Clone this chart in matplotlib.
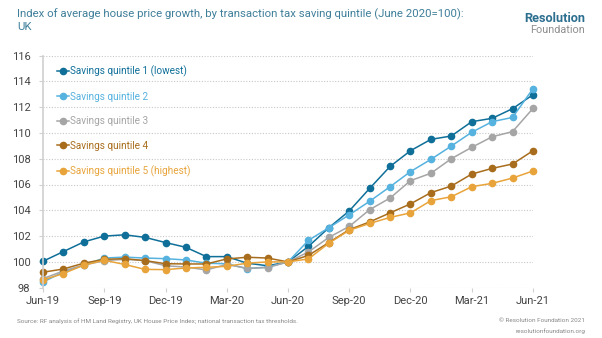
import numpy as np
import matplotlib
matplotlib.use("Agg")
import matplotlib.pyplot as plt

plt.rcParams['font.family'] = ['Roboto', 'DejaVu Sans']

# data (index, June 2020 = 100)
months = ["Jun-19", "Jul-19", "Aug-19", "Sep-19", "Oct-19", "Nov-19", "Dec-19",
          "Jan-20", "Feb-20", "Mar-20", "Apr-20", "May-20", "Jun-20",
          "Jul-20", "Aug-20", "Sep-20", "Oct-20", "Nov-20", "Dec-20",
          "Jan-21", "Feb-21", "Mar-21", "Apr-21", "May-21", "Jun-21"]

q1 = [100.05, 100.8, 101.55, 102.0, 102.1, 101.9, 101.5, 101.13, 100.41, 100.41, 99.9, 99.7, 100.0,
      101.2, 102.65, 103.95, 105.7, 107.4, 108.62, 109.5, 109.76, 110.87, 111.13, 111.88, 112.96]
q2 = [98.44, 99.22, 99.75, 100.3, 100.37, 100.3, 100.25, 100.15, 99.9, 99.85, 99.48, 99.6, 100.0,
      101.67, 102.65, 103.65, 104.7, 105.83, 107.0, 107.95, 108.98, 110.05, 110.87, 111.2, 113.43]
q3 = [98.7, 99.3, 99.75, 100.1, 100.2, 100.1, 99.7, 99.6, 99.38, 99.8, 99.5, 99.56, 100.0,
      100.77, 101.9, 102.75, 104.05, 104.95, 106.3, 106.87, 108.0, 108.88, 109.7, 110.1, 111.9]
q4 = [99.2, 99.45, 99.9, 100.2, 100.25, 100.1, 99.86, 99.84, 99.84, 100.23, 100.36, 100.3, 100.0,
      100.5, 101.5, 102.5, 103.1, 103.8, 104.5, 105.37, 105.88, 106.81, 107.25, 107.59, 108.62]
q5 = [98.6, 99.1, 99.75, 100.13, 99.8, 99.42, 99.4, 99.53, 99.58, 99.66, 99.9, 100.0, 100.0,
      100.23, 101.45, 102.45, 102.98, 103.45, 103.8, 104.75, 105.05, 105.83, 106.09, 106.5, 107.05]

labels = ["Savings quintile 1 (lowest)", "Savings quintile 2", "Savings quintile 3",
          "Savings quintile 4", "Savings quintile 5 (highest)"]
colors = ["#0f6f99", "#56b2de", "#a5a5a5", "#a86d1c", "#e8a43a"]

fig = plt.figure(figsize=(6.02, 3.38), dpi=100)
ax = fig.add_axes([43 / 602, 1 - 287.7 / 338, 490 / 602, 232.2 / 338])

x = np.arange(len(months))
for ys, lab, c in zip([q1, q2, q3, q4, q5], labels, colors):
    ax.plot(x, ys, color=c, lw=1.1, marker="o", ms=4.5, label=lab, clip_on=False)

ax.set_xlim(0, len(months) - 1)
ax.set_ylim(98, 116)
ax.set_yticks(np.arange(98, 117, 2))
ax.set_xticks(x[::3])
ax.set_xticklabels(months[::3])

ax.grid(axis="y", color="#c8c8c8", ls=(0, (1, 1.5)), lw=0.8)
for s in ["top", "right"]:
    ax.spines[s].set_visible(False)
ax.spines["left"].set_color("#d0d0d0")
ax.spines["left"].set_linewidth(1.2)
ax.spines["bottom"].set_visible(False)
ax.tick_params(axis="y", colors="#d0d0d0", labelcolor="#444444", labelsize=8, length=3, pad=6)
ax.tick_params(axis="x", colors="#d0d0d0", labelcolor="#444444", labelsize=8, length=3, pad=3)

leg = ax.legend(loc="upper left", bbox_to_anchor=(0.015, 0.985), frameon=False, fontsize=7.2,
                handlelength=1.2, handletextpad=0.1, labelspacing=1.45, borderaxespad=0.3)
for t, c in zip(leg.get_texts(), colors):
    t.set_color(c)

fig.text(17 / 602, 1 - 20 / 338, "Index of average house price growth, by transaction tax saving quintile (June 2020=100):\nUK",
         color="#3f7f9a", fontsize=8.2, va="center", ha="left", linespacing=1.2)
fig.text(585 / 602, 1 - 18 / 338, "Resolution", color="#2d6f8f", fontsize=9.2, fontweight="bold",
         ha="right", va="center")
fig.text(585 / 602, 1 - 30 / 338, "Foundation", color="#8f8f8f", fontsize=7.8, ha="right", va="center")

fig.text(17 / 602, 1 - 321 / 338,
         "Source: RF analysis of HM Land Registry, UK House Price Index; national transaction tax thresholds.",
         color="#888888", fontsize=4.6, ha="left", va="center")
fig.text(585 / 602, 1 - 320 / 338, "\u00a9 Resolution Foundation 2021", color="#888888", fontsize=4.6,
         ha="right", va="center")
fig.text(585 / 602, 1 - 331 / 338, "resolutionfoundation.org", color="#888888", fontsize=4.6,
         ha="right", va="center")

fig.savefig("out.png", dpi=100)
